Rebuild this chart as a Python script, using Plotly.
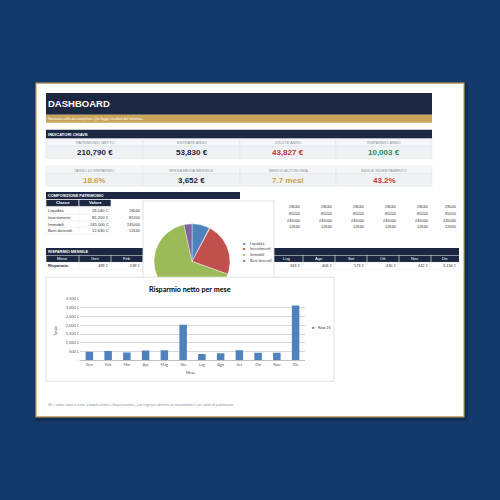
import math
import plotly.graph_objects as go

# ---------------- data ----------------
months = ["Gen", "Feb", "Mar", "Apr", "Mag", "Giu", "Lug", "Ago", "Set", "Ott", "Nov", "Dic"]
monthly_savings = [489, 539, 450, 560, 580, 2037, 363, 406, 573, 430, 442, 3134]

asset_classes = ["Liquidità", "Investimenti", "Immobili", "Beni durevoli"]
asset_values = [28040, 85200, 245000, 12630]

kpi_labels_1 = ["PATRIMONIO NETTO", "ENTRATE ANNO", "USCITE ANNO", "RISPARMIO ANNO"]
kpi_values_1 = ["210,790 €", "53,830 €", "43,827 €", "10,003 €"]
kpi_labels_2 = ["TASSO DI RISPARMIO", "SPESA MEDIA MENSILE", "MESI DI AUTONOMIA", "INDICE INDEBITAMENTO"]
kpi_values_2 = ["18.6%", "3,652 €", "7.7 mesi", "43.2%"]

y_tick_values = [0, 500, 1000, 1500, 2000, 2500, 3000, 3500]
y_tick_labels = ["-", "500 €", "1,000 €", "1,500 €", "2,000 €", "2,500 €", "3,000 €", "3,500 €"]
series_name = "Row 25"

# ---------------- style ----------------
W = H = 500
BG = "#143a6b"
NAVY = "#1c2841"
GOLD = "#c9a55a"
RED = "#c0392b"
GREEN = "#2e8b57"
GOLDTXT = "#c9a04e"
GRAYTXT = "#8a93a3"
FONT = "Liberation Sans"
CFONT = "Lato"
asset_colors = ["#4f81bd", "#c0504d", "#9bbb59", "#8064a2"]
BAR_COLOR = "#4f81bd"
kpi_colors_1 = [NAVY, NAVY, RED, GREEN]
kpi_colors_2 = [GOLDTXT, NAVY, GOLDTXT, RED]

PIE_BOX = (143, 200, 274, 300)
BAR_BOX = (46, 277, 334, 382)

shapes = []
anns = []


def X(x):
    return x / W


def Y(y):
    return 1 - y / H


def rect(x0, y0, x1, y1, fill, line=None, lw=0):
    shapes.append(dict(type="rect", xref="paper", yref="paper",
                       x0=X(x0), x1=X(x1), y0=Y(y1), y1=Y(y0),
                       fillcolor=fill, layer="below",
                       line=dict(color=line or "rgba(0,0,0,0)", width=lw)))


def hidden(x, y):
    for (a, b, c, d) in (PIE_BOX, BAR_BOX):
        if a < x < c and b < y < d:
            return True
    return False


def text(x, y, s, size, color, anchor="left", bold=False, italic=False,
         family=FONT, angle=0, check=None):
    cx = check if check is not None else x
    if hidden(cx, y):
        return
    if bold:
        s = f"<b>{s}</b>"
    if italic:
        s = f"<i>{s}</i>"
    anns.append(dict(x=X(x), y=Y(y), xref="paper", yref="paper", text=s,
                     showarrow=False, xanchor=anchor, yanchor="middle",
                     textangle=angle, borderpad=0,
                     font=dict(size=size, color=color, family=family)))


# ---------------- page ----------------
for i, a in enumerate([0.05, 0.05, 0.06, 0.08]):
    d = 4 - i
    rect(36 - d + 1, 81 - d + 2, 464 + d + 1, 418 + d + 2, f"rgba(0,0,0,{a})")
rect(36, 81, 464, 418, "white", GOLD, 1.2)

# header
rect(46, 91, 432, 113, NAVY)
rect(46, 113, 432, 121, GOLD)
text(47, 102, "DASHBOARD", 9.5, "white", bold=True)
text(47, 117, "Nessuna cella da compilare. Qui leggi i risultati del sistema.", 3.6, "white")

# KPI
rect(46, 128, 432, 137, NAVY)
text(47, 132.5, "INDICATORI CHIAVE", 4.1, "white", bold=True)
col_edges = [46, 143, 240, 336, 432]


def kpi_row(top, labels, values, colors):
    for i in range(4):
        x0, x1 = col_edges[i], col_edges[i + 1]
        rect(x0, top, x1, top + 7.5, "#f5f6f8", "#e1e5eb", 0.6)
        rect(x0, top + 7.5, x1, top + 20, "#eff1f4", "#e1e5eb", 0.6)
        text((x0 + x1) / 2, top + 3.9, labels[i], 3.9, GRAYTXT, anchor="center")
        text((x0 + x1) / 2, top + 13.8, values[i], 8, colors[i], anchor="center", bold=True)


kpi_row(137, kpi_labels_1, kpi_values_1, kpi_colors_1)
kpi_row(165, kpi_labels_2, kpi_values_2, kpi_colors_2)

# ---------------- sheet grid ----------------
grid = [46, 79, 111, 143, 175, 207, 239, 271, 303, 335, 367, 399, 431, 459]

# composizione patrimonio table
rect(46, 191, 240, 198, NAVY)
text(47, 194.5, "COMPOSIZIONE PATRIMONIO", 3.9, "white", bold=True)
rect(46, 198.5, 79, 205.5, NAVY, "white", 0.6)
rect(79, 198.5, 111, 205.5, NAVY, "white", 0.6)
text(62.5, 202, "Classe", 4.2, "white", anchor="center", bold=True)
text(95, 202, "Valore", 4.2, "white", anchor="center", bold=True)
row_y = [210, 216.7, 223.3, 230]
for i, (name, v) in enumerate(zip(asset_classes, asset_values)):
    rect(46, row_y[i] - 3.35, 79, row_y[i] + 3.35, "white", "#ebebeb", 0.4)
    rect(79, row_y[i] - 3.35, 111, row_y[i] + 3.35, "white", "#ebebeb", 0.4)
    text(47, row_y[i], name, 4.2, "#333333")
    text(110, row_y[i], f"{v:,} €", 4.1, "#333333", anchor="right")
    # helper columns used by the chart
    for c in range(3, len(grid)):
        yy = row_y[i] if c == 3 else row_y[i] - 4
        text(grid[c] - 1, yy, f"{v}", 3.9, "#333333", anchor="right",
             check=grid[c] - 8)

# risparmio mensile table
rect(46, 247.5, 459, 254.5, NAVY)
text(47, 251, "RISPARMIO MENSILE", 3.9, "white", bold=True)
rect(46, 255, 459, 261.5, NAVY)
for c in range(len(grid) - 1):
    x0, x1 = grid[c], grid[c + 1]
    shapes.append(dict(type="line", xref="paper", yref="paper", x0=X(x0), x1=X(x0),
                       y0=Y(261.5), y1=Y(255), line=dict(color="white", width=0.6), layer="below"))
    rect(x0, 262, x1, 269, "white", "#ebebeb", 0.4)
    hdr = "Mese" if c == 0 else months[c - 1]
    text((x0 + x1) / 2, 258.3, hdr, 4.1, "white", anchor="center")
    if c == 0:
        text(47, 265.5, "Risparmio", 4.1, NAVY, bold=True)
    else:
        text(x1 - 1.5, 265.5, f"{monthly_savings[c - 1]:,} €", 3.9, "#333333",
             anchor="right", check=(x0 + x1) / 2)

# footer note
text(47, 406, "Se i valori sono a zero: compila prima «Impostazioni», poi registra almeno "
     "un movimento e un saldo di patrimonio.", 3.7, GRAYTXT, italic=True)

# ---------------- pie chart box ----------------
rect(*PIE_BOX, "white", "#d9d9d9", 0.8)
text(208.5, 211, "Composizione attività", 7, "#000000", anchor="center", bold=True, family=CFONT)
leg_y = [242.5, 248.3, 254.1, 259.9]
for i, name in enumerate(asset_classes):
    anns.append(dict(x=X(244), y=Y(leg_y[i]), xref="paper", yref="paper", text="■",
                     showarrow=False, xanchor="center", yanchor="middle",
                     font=dict(size=4, color=asset_colors[i], family=FONT)))
    anns.append(dict(x=X(247.5), y=Y(leg_y[i]), xref="paper", yref="paper", text=name,
                     showarrow=False, xanchor="left", yanchor="middle",
                     font=dict(size=3.8, color="#404040", family=CFONT)))

# ---------------- bar chart box ----------------
rect(*BAR_BOX, "white", "#d9d9d9", 0.8)
anns.append(dict(x=X(190), y=Y(289), xref="paper", yref="paper",
                 text="<b>Risparmio netto per mese</b>", showarrow=False,
                 xanchor="center", yanchor="middle",
                 font=dict(size=7.2, color="#000000", family=CFONT)))
anns.append(dict(x=X(56), y=Y(331), xref="paper", yref="paper", text="Totale",
                 showarrow=False, textangle=-90, xanchor="center", yanchor="middle",
                 font=dict(size=3.8, color="#404040", family=CFONT)))
anns.append(dict(x=X(190), y=Y(373.5), xref="paper", yref="paper", text="Mese",
                 showarrow=False, xanchor="center", yanchor="middle",
                 font=dict(size=3.8, color="#404040", family=CFONT)))
anns.append(dict(x=X(313), y=Y(328), xref="paper", yref="paper", text="■",
                 showarrow=False, xanchor="center", yanchor="middle",
                 font=dict(size=4, color=BAR_COLOR, family=FONT)))
anns.append(dict(x=X(316), y=Y(328), xref="paper", yref="paper", text=series_name,
                 showarrow=False, xanchor="left", yanchor="middle",
                 font=dict(size=3.8, color="#404040", family=CFONT)))

fig = go.Figure()

fig.add_trace(go.Bar(x=months, y=monthly_savings, marker=dict(color=BAR_COLOR, line=dict(width=0)),
                     name=series_name, showlegend=False, hoverinfo="skip"))

# pie slices drawn on a pixel-scaled axis (clipped by the bar chart box)
total = sum(asset_values)
pcx, pcy, pr = 192, 261, 38
acc = 0
for name, v, col in zip(asset_classes, asset_values, asset_colors):
    a0 = acc / total * 360
    a1 = (acc + v) / total * 360
    acc += v
    n = max(2, int((a1 - a0) / 1.0) + 1)
    angs = [a0 + (a1 - a0) * k / n for k in range(n + 1)]
    xs = [pcx] + [pcx + pr * math.sin(math.radians(a)) for a in angs] + [pcx]
    ys = [pcy] + [pcy - pr * math.cos(math.radians(a)) for a in angs] + [pcy]
    fig.add_trace(go.Scatter(x=xs, y=ys, mode="lines", fill="toself", fillcolor=col,
                             line=dict(color="white", width=0.4), name=name,
                             showlegend=False, hoverinfo="skip", xaxis="x2", yaxis="y2"))

fig.update_layout(
    width=W, height=H, margin=dict(l=0, r=0, t=0, b=0),
    paper_bgcolor=BG, plot_bgcolor="rgba(0,0,0,0)",
    showlegend=False, bargap=0.6,
    shapes=shapes, annotations=anns,
    xaxis=dict(domain=[X(80), X(305)], showgrid=False, showline=True, linecolor="#bfbfbf",
               linewidth=0.6, ticks="", tickfont=dict(size=3.9, color="#595959", family=CFONT),
               fixedrange=True, anchor="y"),
    yaxis=dict(domain=[Y(361), Y(299)], range=[0, 3500], tickvals=y_tick_values,
               ticktext=y_tick_labels, showgrid=True, gridcolor="#d9d9d9", gridwidth=0.5,
               zeroline=False, showline=False, ticks="",
               tickfont=dict(size=3.9, color="#595959", family=CFONT), fixedrange=True,
               anchor="x"),
    xaxis2=dict(domain=[X(PIE_BOX[0]), X(PIE_BOX[2])], range=[PIE_BOX[0], PIE_BOX[2]],
                visible=False, fixedrange=True, anchor="y2"),
    yaxis2=dict(domain=[Y(276.5), Y(PIE_BOX[1])], range=[276.5, PIE_BOX[1]],
                visible=False, fixedrange=True, anchor="x2"),
)

fig.write_html("out.html", config={"displayModeBar": False})
